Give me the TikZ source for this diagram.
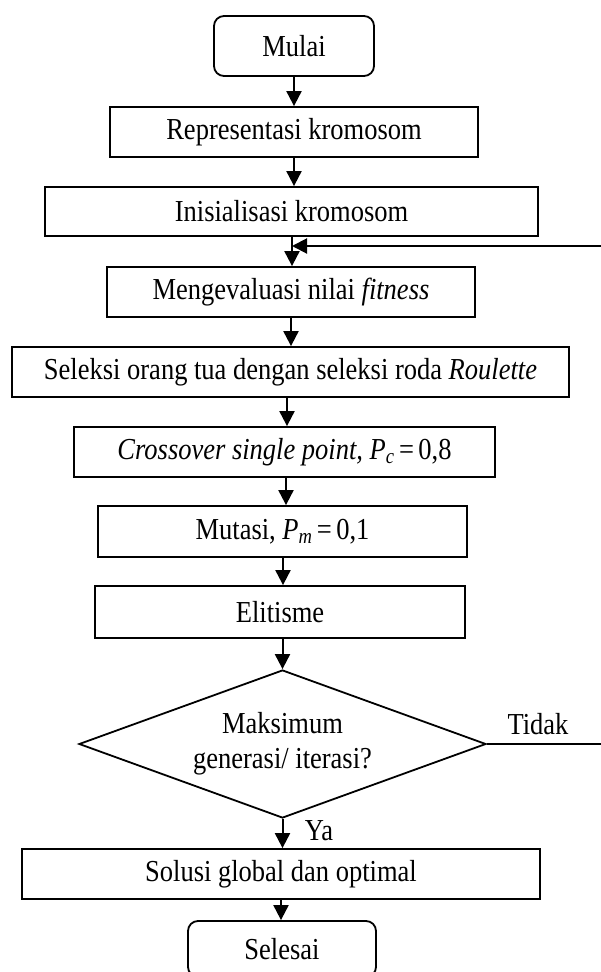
\documentclass[tikz,border=0pt]{standalone}
\usepackage{graphicx}
\usepackage{fontspec}
\setmainfont{Liberation Serif}
\usetikzlibrary{arrows.meta,shapes.geometric}
\newcommand{\vst}[1]{\scalebox{1}[1.15]{#1}}
\begin{document}
\begin{tikzpicture}[x=1pt,y=-1pt,
  font=\fontsize{26.5}{35}\selectfont,
  box/.style={draw,line width=1.8pt,inner sep=0pt,align=center},
  termbox/.style={box,rounded corners=10pt},
  decbox/.style={draw,line width=1.8pt,diamond,aspect=2.75,inner sep=0pt,align=center,
    minimum width=407pt,minimum height=148pt},
  arr/.style={line width=2pt,-{Triangle[width=15pt,length=15pt]}},
  conn/.style={line width=2pt},
  lbl/.style={inner sep=0pt}]
\useasboundingbox (0,0) rectangle (601,972);
\clip (0,0) rectangle (601,972);
% nodes
\node[termbox,minimum width=160pt,minimum height=60pt] (mulai) at (294,46) {\vst{Mulai}};
\node[box,minimum width=368pt,minimum height=50pt] (rep) at (294,132) {\vst{Representasi kromosom}};
\node[box,minimum width=493pt,minimum height=49pt] (inis) at (291.5,211.5) {\vst{Inisialisasi kromosom}};
\node[box,minimum width=368pt,minimum height=50pt] (eval) at (291,292) {\vst{Mengevaluasi nilai \textit{fitness}}};
\node[box,minimum width=557pt,minimum height=50pt] (sel) at (290.5,372) {\vst{Seleksi orang tua dengan seleksi roda \textit{Roulette}}};
\node[box,minimum width=421pt,minimum height=50pt] (cross) at (284.5,452) {\vst{\textit{Crossover single point, P\textsubscript{c}}\,=\,0,8}};
\node[box,minimum width=369pt,minimum height=51pt] (mut) at (282.5,531.5) {\vst{Mutasi, \textit{P\textsubscript{m}}\,=\,0,1}};
\node[box,minimum width=370pt,minimum height=52pt] (elit) at (280,612) {\vst{Elitisme}};
\node[decbox] (dia) at (282.5,744) {\vst{Maksimum}\\\vst{generasi/ iterasi?}};
\node[box,minimum width=518pt,minimum height=50pt] (sol) at (281,874) {\vst{Solusi global dan optimal}};
\node[termbox,minimum width=188pt,minimum height=56pt] (selesai) at (282,949) {\vst{Selesai}};
\node[lbl] (tidak) at (538,724) {\vst{Tidak}};
\node[lbl] (ya) at (319,831) {\vst{Ya}};
% guide coordinates
\coordinate (x1) at (294,0);
\coordinate (x2) at (294,0);
\coordinate (x3) at (292,0);
\coordinate (x4) at (291,0);
\coordinate (x5) at (287,0);
\coordinate (x6) at (286,0);
\coordinate (x7) at (283,0);
\coordinate (x8) at (281,0);
\coordinate (edge) at (601,0);
\coordinate (fbR) at (601,246);
% connectors
\draw[arr] (mulai.south -| x1) -- (rep.north -| x1);
\draw[arr] (rep.south -| x2) -- (inis.north -| x2);
\draw[arr] (inis.south -| x3) -- (eval.north -| x3);
\draw[arr] (fbR) -- (fbR -| x3);
\draw[arr] (eval.south -| x4) -- (sel.north -| x4);
\draw[arr] (sel.south -| x5) -- (cross.north -| x5);
\draw[arr] (cross.south -| x6) -- (mut.north -| x6);
\draw[arr] (mut.south -| x7) -- (elit.north -| x7);
\draw[arr] (elit.south -| dia.north) -- (dia.north);
\draw[arr] (dia.south) -- (sol.north -| dia.south);
\draw[arr] (sol.south -| x8) -- (selesai.north -| x8);
\draw[conn] (dia.east) -- (dia.east -| edge);
\end{tikzpicture}
\end{document}
